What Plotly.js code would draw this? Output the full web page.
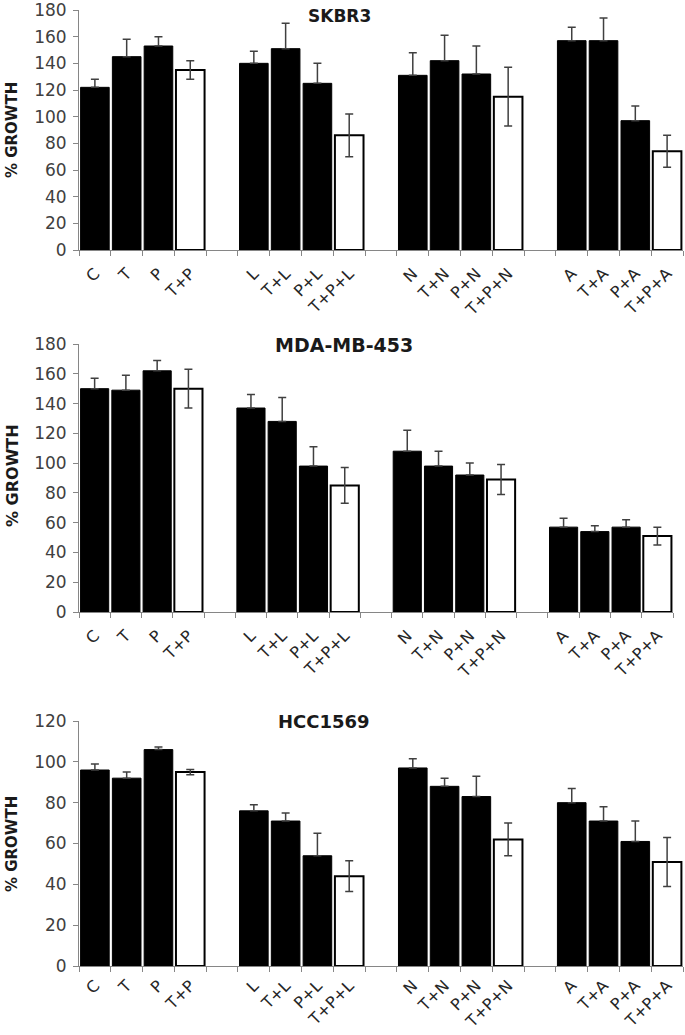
<!DOCTYPE html>
<html>
<head>
<meta charset="utf-8">
<script src="https://cdn.plot.ly/plotly-3.0.1.min.js"></script>
<style>body{margin:0;background:#fff}</style>
</head>
<body>
<div id="graph1" style="width:685px;height:1035px"></div>
<script>
// x categories, blank strings keep the gaps between the four groups
var categories = ['C', 'T', 'P', 'T+P', ' ',
    'L', 'T+L', 'P+L', 'T+P+L', '  ',
    'N', 'T+N', 'P+N', 'T+P+N', '   ',
    'A', 'T+A', 'P+A', 'T+P+A'];
var openBars = ['T+P', 'T+P+L', 'T+P+N', 'T+P+A'];

var panelTitles = ['SKBR3', 'MDA-MB-453', 'HCC1569'];

var skbr3 = [122, 145, 153, 135, null, 140, 151, 125, 86, null, 131, 142, 132, 115, null, 157, 157, 97, 74];
var skbr3Err = [6, 13, 7, 7, null, 9, 19, 15, 16, null, 17, 19, 21, 22, null, 10, 17, 11, 12];

var mda453 = [150, 149, 162, 150, null, 137, 128, 98, 85, null, 108, 98, 92, 89, null, 57, 54, 57, 51];
var mda453Err = [7, 10, 7, 13, null, 9, 16, 13, 12, null, 14, 10, 8, 10, null, 6, 4, 5, 6];

var hcc1569 = [96, 92, 106, 95, null, 76, 71, 54, 44, null, 97, 88, 83, 62, null, 80, 71, 61, 51];
var hcc1569Err = [3, 3, 1.3, 1.3, null, 3, 4, 11, 7.5, null, 4.5, 4, 10, 8, null, 7, 7, 10, 12];

function makeTraces(vals, errs, xa, ya) {
    var fx = [], fy = [], fe = [], ox = [], oy = [], oe = [];
    categories.forEach(function (c, i) {
        if (openBars.indexOf(c) >= 0) {
            ox.push(c); oy.push(vals[i]); oe.push(errs[i]);
        } else {
            fx.push(c); fy.push(vals[i]); fe.push(errs[i]);
        }
    });
    var filled = {
        type: 'bar', x: fx, y: fy, xaxis: xa, yaxis: ya,
        marker: {color: '#000000', line: {color: '#000000', width: 1}},
        error_y: {type: 'data', symmetric: false, array: fe,
            arrayminus: fe.map(function () { return 0; }),
            color: '#404040', thickness: 1.5, width: 4},
        hoverinfo: 'x+y'
    };
    var open = {
        type: 'bar', x: ox, y: oy, xaxis: xa, yaxis: ya,
        marker: {color: '#ffffff', line: {color: '#000000', width: 2}},
        error_y: {type: 'data', array: oe, color: '#404040', thickness: 1.5, width: 4},
        hoverinfo: 'x+y'
    };
    return [filled, open];
}

var data = []
    .concat(makeTraces(skbr3, skbr3Err, 'x', 'y'))
    .concat(makeTraces(mda453, mda453Err, 'x2', 'y2'))
    .concat(makeTraces(hcc1569, hcc1569Err, 'x3', 'y3'));

var W = 685, H = 1035;
function xAxis(left, right, anchor, standoff) {
    return {
        domain: [left / W, right / W],
        anchor: anchor,
        type: 'category',
        categoryorder: 'array',
        categoryarray: categories,
        range: [-0.5, 18.5],
        tickson: 'boundaries',
        ticks: 'outside',
        ticklen: 5,
        tickcolor: '#868686',
        tickwidth: 1,
        showline: true,
        linecolor: '#868686',
        linewidth: 1,
        showgrid: false,
        zeroline: false,
        tickangle: -45,
        ticklabelstandoff: standoff,
        tickfont: {family: 'DejaVu Sans', size: 16, color: '#262626'}
    };
}
function yAxis(top, bottom, max, anchor) {
    return {
        domain: [1 - bottom / H, 1 - top / H],
        anchor: anchor,
        range: [0, max],
        dtick: 20,
        ticks: 'outside',
        ticklen: 5,
        tickcolor: '#868686',
        showline: true,
        linecolor: '#868686',
        linewidth: 1,
        showgrid: false,
        zeroline: false,
        ticklabelstandoff: 3,
        ticklabeloverflow: 'allow',
        tickfont: {family: 'DejaVu Sans', size: 17, color: '#404040'}
    };
}

var titleFont = {family: 'DejaVu Sans', color: '#1a1a1a'};
function note(text, x, y, size, angle) {
    return {
        text: '<b>' + text + '</b>', xref: 'paper', yref: 'paper',
        x: x / W, y: 1 - y / H, xanchor: 'center', yanchor: 'middle',
        showarrow: false, textangle: angle || 0,
        font: Object.assign({size: size}, titleFont)
    };
}

var layout = {
    width: W,
    height: H,
    margin: {l: 0, r: 0, t: 0, b: 0},
    paper_bgcolor: '#ffffff',
    plot_bgcolor: '#ffffff',
    showlegend: false,
    barmode: 'overlay',
    bargap: 0.1,
    xaxis: xAxis(79, 683, 'y', 7),
    xaxis2: xAxis(79, 673, 'y2', 7),
    xaxis3: xAxis(79, 683, 'y3', 3),
    yaxis: yAxis(10, 250, 180, 'x'),
    yaxis2: yAxis(344, 612, 180, 'x2'),
    yaxis3: yAxis(721, 966, 120, 'x3'),
    annotations: [
        note(panelTitles[0], 339, 16, 17),
        note(panelTitles[1], 344, 345, 19),
        note(panelTitles[2], 324, 721, 18),
        note('% GROWTH', 12, 130, 15, -90),
        note('% GROWTH', 12, 476, 16, -90),
        note('% GROWTH', 12, 844, 15, -90)
    ]
};

Plotly.newPlot('graph1', data, layout, {displayModeBar: false});
</script>
</body>
</html>
